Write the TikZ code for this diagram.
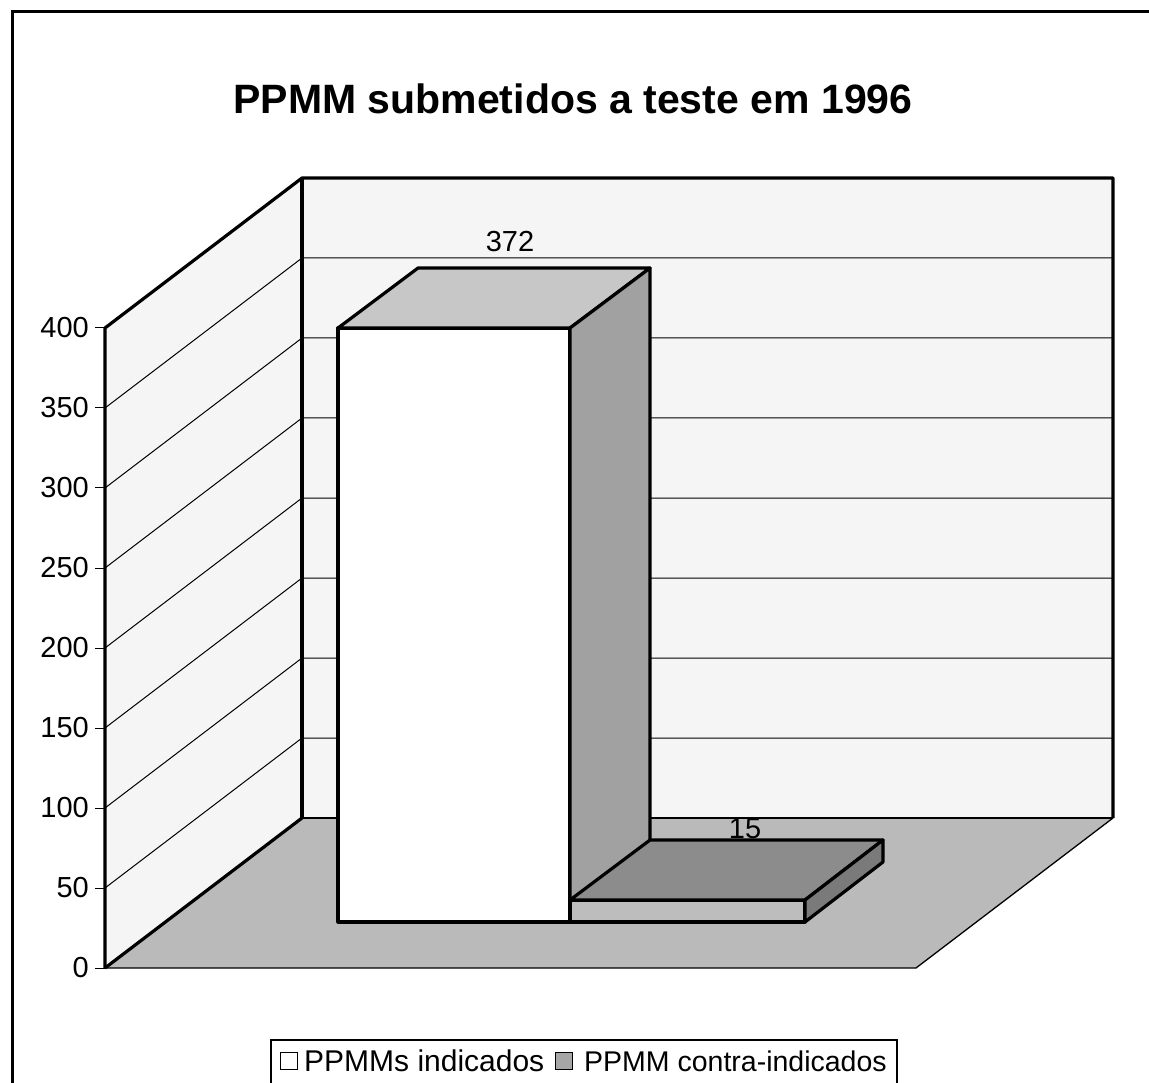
\documentclass[tikz,border=0pt]{standalone}
\usepackage{fontspec}
\setmainfont{Liberation Sans}
\begin{document}
\begin{tikzpicture}[x=1pt,y=-1pt,
  thickline/.style={line width=3.2pt, line join=round},
  medline/.style={line width=1.8pt},
  gridline/.style={line width=1pt, black},
  wallfill/.style={fill=black!4},
  floorfill/.style={fill=black!27},
  barline/.style={line width=3.2pt, line join=round},
  ticklbl/.style={anchor=east, font=\fontsize{29}{34}\selectfont, inner sep=0pt},
  vallbl/.style={font=\fontsize{29}{34}\selectfont, inner sep=0pt},
  legtxt/.style={anchor=west, inner sep=0pt},
  legsq/.style={draw, line width=1.6pt, minimum size=17pt, inner sep=0pt}]
\path[use as bounding box, fill=white] (0,0) rectangle (1149,1083);
% outer frame
\draw[line width=3pt] (12,1083) -- (12,12) -- (1149,12);
% title
\node[anchor=base, font=\bfseries\fontsize{41}{48}\selectfont, inner sep=0pt] (title) at (573,114) {PPMM submetidos a teste em 1996};
% corners
\coordinate (FL0) at (105,968);
\coordinate (FL4) at (105,328);
\coordinate (BL4) at (302,178);
\coordinate (BL0) at (302,818);
\coordinate (BR4) at (1113,178);
\coordinate (BR0) at (1113,818);
\coordinate (FR0) at (916,968);
% walls and floor
\fill[wallfill] (FL0) -- (FL4) -- (BL4) -- (BL0) -- cycle;
\fill[wallfill] (BL0) -- (BL4) -- (BR4) -- (BR0) -- cycle;
\fill[floorfill] (FL0) -- (BL0) -- (BR0) -- (FR0) -- cycle;
% gridlines
\foreach \v in {50,100,...,350}{
  \draw[gridline] (105,{968-1.6*\v}) -- (302,{818-1.6*\v}) -- (1113,{818-1.6*\v});
}
% wall outlines
\draw[medline] (BL0) -- (BR0);
\draw[line width=1.3pt] (FL0) -- (FR0) -- (BR0);
\draw[thickline] (FL0) -- (FL4) -- (BL4) -- (BR4) -- (BR0);
\draw[thickline] (BL4) -- (BL0);
\draw[thickline] (FL0) -- (BL0);
% y axis ticks and labels
\foreach \v in {0,50,...,400}{
  \draw[line width=1pt] (95,{968-1.6*\v}) -- (105,{968-1.6*\v});
  \node[ticklbl] (y\v) at (89,{968-1.6*\v}) {\v};
}
% bar 1
\filldraw[barline, fill=white] (338,328) -- (570,328) -- (570,922) -- (338,922) -- cycle;
\filldraw[barline, fill=black!22] (338,328) -- (418,268) -- (650,268) -- (570,328) -- cycle;
\filldraw[barline, fill=black!37] (570,328) -- (650,268) -- (650,862) -- (570,922) -- cycle;
% bar 2
\filldraw[barline, fill=black!26] (570,900) -- (805,900) -- (805,922) -- (570,922) -- cycle;
\filldraw[barline, fill=black!45] (570,900) -- (650,840) -- (883,840) -- (805,900) -- cycle;
\filldraw[barline, fill=black!52] (805,900) -- (883,840) -- (883,862) -- (805,922) -- cycle;
% value labels
\node[vallbl] (v372) at (510,242) {372};
\node[vallbl] (v15) at (745,829) {15};
% legend
\draw[line width=1.4pt] (271,1100) -- (271,1040) -- (897,1040) -- (897,1100);
\node[legsq, fill=white] (sq1) at (289,1061) {};
\node[legtxt, font=\fontsize{30}{34}\selectfont] (l1) at (304,1061) {PPMMs indicados};
\node[legsq, fill=black!35] (sq2) at (564,1061) {};
\node[legtxt, font=\fontsize{28.5}{34}\selectfont] (l2) at (584,1061) {PPMM contra-indicados};
\end{tikzpicture}
\end{document}
